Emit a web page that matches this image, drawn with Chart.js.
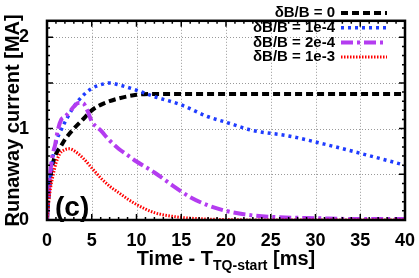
<!DOCTYPE html>
<html>
<head>
<meta charset="utf-8">
<script src="https://cdn.jsdelivr.net/npm/chart.js@4.4.1/dist/chart.umd.min.js"></script>
<style>
  html, body { margin: 0; padding: 0; background: #fff; }
  #wrap { width: 419px; height: 278px; }
</style>
</head>
<body>
<div id="wrap"><canvas id="rcChart" width="419" height="278"></canvas></div>
<script>
// data (time in ms, current in MA)
const seriesLabels = ["\u03b4B/B = 0", "\u03b4B/B = 1e-4", "\u03b4B/B = 2e-4", "\u03b4B/B = 1e-3"];

const tNoPert = [0, 0.2, 0.5, 1, 1.5, 2, 3, 4, 5, 6, 7, 8, 10, 12, 15, 20, 30, 40];
const iNoPert = [0, 0.3, 0.55, 0.72, 0.8, 0.88, 1.0, 1.1, 1.2, 1.26, 1.3, 1.33, 1.37, 1.38, 1.38, 1.38, 1.38, 1.38];

const t1e4 = [0, 0.3, 0.6, 1, 1.5, 2, 3, 4, 5, 6, 7, 8, 10, 12, 15, 18, 20, 23, 27, 31, 35, 40];
const i1e4 = [0, 0.4, 0.65, 0.85, 0.97, 1.07, 1.24, 1.36, 1.44, 1.48, 1.5, 1.48, 1.42, 1.35, 1.26, 1.13, 1.07, 0.98, 0.92, 0.83, 0.73, 0.6];

const t2e4 = [0, 0.3, 0.6, 0.9, 1.2, 1.6, 2, 2.5, 3, 3.5, 4, 4.5, 5, 6, 7, 8, 9, 10, 12, 14, 16, 18, 20, 23, 26, 30, 35, 40];
const i2e4 = [0, 0.45, 0.7, 0.82, 0.98, 1.1, 1.13, 1.18, 1.24, 1.28, 1.28, 1.2, 1.08, 0.98, 0.87, 0.78, 0.71, 0.64, 0.52, 0.38, 0.25, 0.16, 0.1, 0.05, 0.03, 0.02, 0.01, 0.01];

const t1e3 = [0, 0.2, 0.4, 0.7, 1, 1.4, 2, 2.5, 3, 4, 5, 6, 7, 8, 9, 10, 11, 12, 14, 16, 20, 25, 40];
const i1e3 = [0, 0.2, 0.35, 0.5, 0.62, 0.72, 0.77, 0.78, 0.76, 0.68, 0.57, 0.46, 0.37, 0.3, 0.23, 0.17, 0.12, 0.08, 0.04, 0.02, 0.005, 0, 0];

const xTicks = [0, 5, 10, 15, 20, 25, 30, 35, 40];
const yGridTicks = [0, 0.5, 1, 1.5, 2];
const yTickLabels = [0, 1, 2];

const toPoints = (ts, is) => ts.map((t, k) => ({ x: t, y: is[k] }));
const FONT = "'Liberation Sans', Arial, sans-serif";

// frame, inward ticks, labels and legend in gnuplot style
const gnuplotStyle = {
  id: "gnuplotStyle",
  beforeDatasetsDraw(chart) {
    // dotted grid
    const ctx = chart.ctx;
    const a = chart.chartArea;
    ctx.save();
    ctx.strokeStyle = "#999";
    ctx.lineWidth = 1;
    ctx.setLineDash([1, 2]);
    xTicks.forEach(v => {
      const px = Math.round(chart.scales.x.getPixelForValue(v)) + 0.5;
      ctx.beginPath(); ctx.moveTo(px, a.top); ctx.lineTo(px, a.bottom); ctx.stroke();
    });
    yGridTicks.forEach(v => {
      const py = Math.round(chart.scales.y.getPixelForValue(v)) + 0.5;
      ctx.beginPath(); ctx.moveTo(a.left, py); ctx.lineTo(a.right, py); ctx.stroke();
    });
    ctx.restore();
  },
  afterDatasetsDraw(chart) {
    const ctx = chart.ctx;
    const a = chart.chartArea;
    const xs = chart.scales.x;
    const ys = chart.scales.y;
    ctx.save();
    ctx.strokeStyle = "#000";
    // ticks
    ctx.lineWidth = 1.5;
    for (let v = 0; v <= 40; v += 1) {
      const px = xs.getPixelForValue(v);
      const len = v % 5 === 0 ? 6 : 3;
      ctx.beginPath();
      ctx.moveTo(px, a.bottom); ctx.lineTo(px, a.bottom - len);
      ctx.moveTo(px, a.top); ctx.lineTo(px, a.top + len);
      ctx.stroke();
    }
    for (let k = 0; k <= 21; k++) {
      const py = ys.getPixelForValue(k / 10);
      const len = k % 5 === 0 ? 6 : 3;
      ctx.beginPath();
      ctx.moveTo(a.left, py); ctx.lineTo(a.left + len, py);
      ctx.moveTo(a.right, py); ctx.lineTo(a.right - len, py);
      ctx.stroke();
    }
    // frame
    ctx.lineWidth = 2.5;
    ctx.strokeRect(a.left, a.top, a.right - a.left, a.bottom - a.top);

    // panel tag
    ctx.fillStyle = "#000";
    ctx.font = "bold 28px " + FONT;
    ctx.textAlign = "left";
    ctx.textBaseline = "alphabetic";
    ctx.fillText("(c)", 55, 216);

    // legend
    ctx.font = "bold 15px " + FONT;
    ctx.textAlign = "right";
    ctx.textBaseline = "middle";
    chart.data.datasets.forEach((ds, k) => {
      const y = 13 + k * 14.7;
      ctx.fillStyle = "#000";
      ctx.fillText(ds.label, 335, y);
      ctx.beginPath();
      ctx.strokeStyle = ds.borderColor;
      ctx.lineWidth = ds.borderWidth;
      ctx.setLineDash(ds.borderDash);
      ctx.moveTo(341, y); ctx.lineTo(387, y);
      ctx.stroke();
    });
    ctx.setLineDash([]);

    // axis titles
    ctx.fillStyle = "#000";
    ctx.textBaseline = "alphabetic";
    ctx.textAlign = "left";
    const big = "bold 20px " + FONT;
    const sub = "bold 14px " + FONT;
    const parts = [["Time - T", big, 0], ["TQ-start", sub, 5], [" [ms]", big, 0]];
    let w = 0;
    parts.forEach(p => { ctx.font = p[1]; w += ctx.measureText(p[0]).width; });
    let x = (a.left + a.right) / 2 - w / 2;
    parts.forEach(p => {
      ctx.font = p[1];
      ctx.fillText(p[0], x, 265 + p[2]);
      x += ctx.measureText(p[0]).width;
    });

    ctx.translate(19, (a.top + a.bottom) / 2);
    ctx.rotate(-Math.PI / 2);
    ctx.textAlign = "center";
    ctx.font = big;
    ctx.fillText("Runaway current [MA]", 0, 0);
    ctx.restore();
  }
};

const ctxRc = document.getElementById("rcChart").getContext("2d");
const rcChart = new Chart(ctxRc, {
  type: "line",
  data: {
    datasets: [{
      label: seriesLabels[0],
      data: toPoints(tNoPert, iNoPert),
      borderColor: "#000000",
      borderWidth: 4,
      borderDash: [7, 4],
      order: 4
    }, {
      label: seriesLabels[1],
      data: toPoints(t1e4, i1e4),
      borderColor: "#1f3cff",
      borderWidth: 3.5,
      borderDash: [3, 4],
      order: 3
    }, {
      label: seriesLabels[2],
      data: toPoints(t2e4, i2e4),
      borderColor: "#b43cf0",
      borderWidth: 4,
      borderDash: [12, 4, 3, 4],
      order: 2
    }, {
      label: seriesLabels[3],
      data: toPoints(t1e3, i1e3),
      borderColor: "#ff0000",
      borderWidth: 3,
      borderDash: [1.5, 1.5],
      order: 1
    }]
  },
  options: {
    responsive: false,
    animation: false,
    layout: { padding: { top: 2, right: 14, left: 0, bottom: 0 } },
    elements: {
      point: { radius: 0 },
      line: { cubicInterpolationMode: "monotone", borderCapStyle: "butt" }
    },
    plugins: { legend: { display: false }, tooltip: { enabled: false } },
    scales: {
      x: {
        type: "linear",
        min: 0,
        max: 40,
        afterBuildTicks: scale => { scale.ticks = xTicks.map(v => ({ value: v })); },
        afterFit: scale => { scale.height = 58; },
        grid: { display: false },
        border: { display: false },
        ticks: {
          color: "#000",
          padding: 2,
          maxRotation: 0,
          font: { family: FONT, size: 18, weight: "bold" }
        }
      },
      y: {
        min: 0,
        max: 2.18,
        afterBuildTicks: scale => { scale.ticks = yGridTicks.map(v => ({ value: v })); },
        afterFit: scale => { scale.width = 47; },
        grid: { display: false },
        border: { display: false },
        ticks: {
          color: "#000",
          padding: 10,
          callback: v => yTickLabels.includes(v) ? String(v) : "",
          font: { family: FONT, size: 18, weight: "bold" }
        }
      }
    }
  },
  plugins: [gnuplotStyle]
});
</script>
</body>
</html>
